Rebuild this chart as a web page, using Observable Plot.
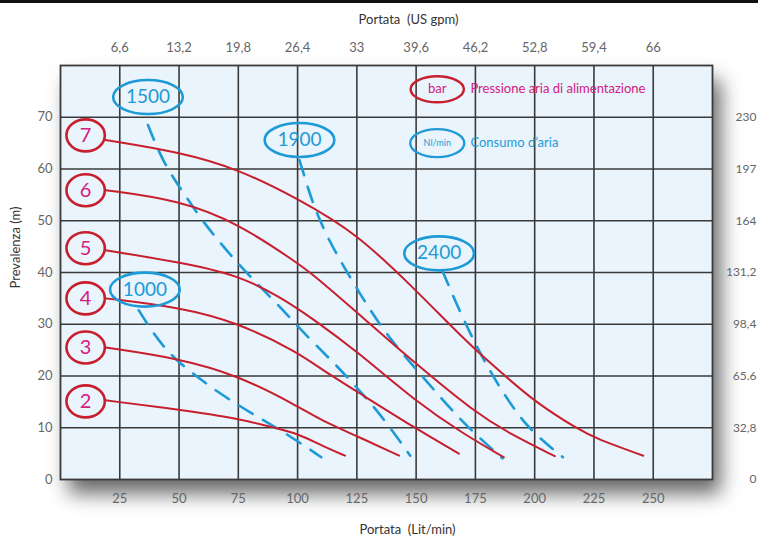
<!DOCTYPE html>
<html>
<head>
<meta charset="utf-8">
<script src="https://cdn.jsdelivr.net/npm/d3@7"></script>
<script src="https://cdn.jsdelivr.net/npm/@observablehq/plot@0.6"></script>
<style>
  body { margin: 0; background: #fff; }
  #wrap { position: relative; width: 758px; height: 545px; }
  #topbar { position: absolute; left: 0; top: 0; width: 758px; height: 3px; background: #111; }
</style>
</head>
<body>
<div id="wrap"><div id="topbar"></div></div>
<script>
// ---- tick labels ----
const xTicks = [25, 50, 75, 100, 125, 150, 175, 200, 225, 250];
const gpmLabels = ["6,6", "13,2", "19,8", "26,4", "33", "39,6", "46,2", "52,8", "59,4", "66"];
const yTicks = [0, 10, 20, 30, 40, 50, 60, 70];
const ftLabels = ["0", "32,8", "65.6", "98,4", "131,2", "164", "197", "230"];

// ---- pressure curves (bar): [Portata Lit/min, Prevalenza m] ----
const bar2 = [[19,15.3],[50,13.5],[75,11.8],[90,10],[100,8.9],[110,6.6],[120,4.6]];
const bar3 = [[19,25.5],[50,23.4],[75,20.1],[100,14.2],[110,11.4],[125,8.4],[142.8,4.6]];
const bar4 = [[19,35],[50,33.3],[75,30.3],[100,24.6],[110,21.3],[125,17],[150,9.8],[168,5]];
const bar5 = [[19,44.3],[50,42],[75,39.5],[93,35.2],[106,31.2],[125,24.8],[150,15],[170,8.8],[187,4.3]];
const bar6 = [[19,55.9],[50,54],[75,49.5],[100,41.8],[106,39.8],[125,32.3],[150,22.3],[175,12.9],[190,8.7],[208.5,4.5]];
const bar7 = [[19,65.6],[50,63.3],[75,60],[100,54.3],[125,47.6],[150,36.5],[164,30],[176,24.6],[186.4,20.5],[200,15],[219,9.5],[226,7.9],[245.8,4.6]];
const barNames = ["2", "3", "4", "5", "6", "7"];
const barLabelX = 10.6;
const barLabelY = [15.1, 25.5, 35, 44.7, 55.9, 66.5];

// ---- air consumption (Nl/min) ----
const nl1000 = [[33,32.7],[43.2,25.3],[55,20.7],[67.8,16.4],[80.5,12.8],[94.5,9.1],[110,4.3]];
const nl1500 = [[36.9,68.5],[43.2,61.3],[51.7,55.5],[60.2,49.7],[70.3,44.1],[81.4,38.5],[92.4,33.5],[103.4,27.9],[114.8,22.8],[125.4,17.6],[136,12],[147.5,4.6]];
const nl1900 = [[100.8,61.7],[103.4,57.8],[106.8,52.8],[113.1,46.2],[121.6,39.5],[130,33.1],[139.4,26.9],[149.6,21.5],[160.6,15.7],[171.6,10.1],[186.4,4.1]];
const nl2400 = [[161,40.4],[168.2,32.7],[174.6,26.5],[181.4,20.7],[189,15.1],[197.9,9.5],[211.9,4.3]];
const nlNames = ["1000", "1500", "1900", "2400"];
const nlLabelX = [35.6, 36.9, 100.8, 159.7];
const nlLabelY = [36.7, 73.9, 65.6, 43.7];

// ---- legend ----
const legendText = ["Pressione aria di alimentazione", "Consumo d\u2019aria"];
const legendKeys = ["bar", "Nl/min"];
const legendX = 158.9;
const legendTextX = 172.9;
const legendY = [75.4, 65];

const RED = "#c81f2e", MAG = "#d4207f", BLUE = "#1e9ad6", GRID = "#3a3a3a";

const barSeries = [bar2, bar3, bar4, bar5, bar6, bar7];
const nlSeries = [nl1000, nl1500, nl1900, nl2400];
const barRows = barSeries.flatMap((s, i) => s.map(([x, y]) => ({x, y, s: barNames[i]})));
const nlRows = nlSeries.flatMap((s, i) => s.map(([x, y]) => ({x, y, s: nlNames[i]})));
const barLabels = barNames.map((n, i) => ({x: barLabelX, y: barLabelY[i], t: n}));
const nlLabels = nlNames.map((n, i) => ({x: nlLabelX[i], y: nlLabelY[i], t: n}));

function ellipse(sx, sy) {
  return {
    draw(ctx, size) {
      const r = Math.sqrt(size / Math.PI), rx = r * sx, ry = r * sy, k = 0.5523;
      ctx.moveTo(rx, 0);
      ctx.bezierCurveTo(rx, ry * k, rx * k, ry, 0, ry);
      ctx.bezierCurveTo(-rx * k, ry, -rx, ry * k, -rx, 0);
      ctx.bezierCurveTo(-rx, -ry * k, -rx * k, -ry, 0, -ry);
      ctx.bezierCurveTo(rx * k, -ry, rx, -ry * k, rx, 0);
      ctx.closePath();
    }
  };
}

const chart = Plot.plot({
  width: 758,
  height: 545,
  marginLeft: 60,
  marginRight: 46,
  marginTop: 65,
  marginBottom: 66,
  x: {domain: [0, 275]},
  y: {domain: [0, 80]},
  style: {fontFamily: "Lato, 'Open Sans', sans-serif", fontSize: "13px", color: "#666", background: "transparent"},
  marks: [
    Plot.frame({fill: "#e9f4fc", stroke: "none"}),
    Plot.ruleX(xTicks, {stroke: GRID, strokeWidth: 1.6}),
    Plot.ruleY(yTicks.slice(1), {stroke: GRID, strokeWidth: 1.6}),
    Plot.frame({stroke: GRID, strokeWidth: 1.8}),
    Plot.axisX(xTicks, {anchor: "bottom", tickSize: 0, tickPadding: 14, label: null, fill: "#666", fontSize: 13}),
    Plot.axisX(xTicks, {anchor: "top", tickSize: 0, tickPadding: 14, label: null, fill: "#666", fontSize: 13,
      tickFormat: (d) => gpmLabels[xTicks.indexOf(d)]}),
    Plot.axisY(yTicks, {anchor: "left", tickSize: 0, tickPadding: 8, label: null, fill: "#666", fontSize: 13}),
    Plot.axisY(yTicks, {anchor: "right", tickSize: 0, tickPadding: 44, textAnchor: "end", label: null, fill: "#666", fontSize: 12,
      tickFormat: d => ftLabels[yTicks.indexOf(d)]}),
    Plot.text(["Portata\u00a0 (US gpm)"], {frameAnchor: "top", dx: 22, dy: -51, fill: "#333", fontSize: 13}),
    Plot.text(["Portata\u00a0 (Lit/min)"], {frameAnchor: "bottom", dx: 21, dy: 54, fill: "#333", fontSize: 13}),
    Plot.text(["Prevalenza (m)"], {frameAnchor: "left", dx: -45, dy: 16, rotate: -90, fill: "#333", fontSize: 13}),
    // air consumption dashed lines
    Plot.line(nlRows, {x: "x", y: "y", z: "s", stroke: BLUE, strokeWidth: 2.6, strokeDasharray: "16,12", curve: "basis"}),
    // pressure curves
    Plot.line(barRows, {x: "x", y: "y", z: "s", stroke: RED, strokeWidth: 2, curve: "basis"}),
    // pressure labels
    Plot.dot(barLabels, {x: "x", y: "y", r: 16, symbol: ellipse(1.2, 1), stroke: RED, strokeWidth: 2.6, fill: "none"}),
    Plot.text(barLabels, {x: "x", y: "y", text: "t", fill: MAG, fontSize: 20}),
    // consumption labels
    Plot.dot(nlLabels, {x: "x", y: "y", r: 17, symbol: ellipse(2.05, 1), stroke: BLUE, strokeWidth: 2.6, fill: "none"}),
    Plot.text(nlLabels, {x: "x", y: "y", text: "t", fill: BLUE, fontSize: 19}),
    // legend
    Plot.dot([0], {x: legendX, y: legendY[0], r: 13, symbol: ellipse(2.05, 1), stroke: RED, strokeWidth: 2.4, fill: "none"}),
    Plot.text([legendKeys[0]], {x: legendX, y: legendY[0], fill: MAG, fontSize: 13}),
    Plot.text([legendText[0]], {x: legendTextX, y: legendY[0], fill: MAG, fontSize: 13, textAnchor: "start"}),
    Plot.dot([0], {x: legendX, y: legendY[1], r: 14, symbol: ellipse(1.93, 1), stroke: BLUE, strokeWidth: 2.4, fill: "none"}),
    Plot.text([legendKeys[1]], {x: legendX, y: legendY[1], fill: BLUE, fontSize: 9}),
    Plot.text([legendText[1]], {x: legendTextX, y: legendY[1], fill: BLUE, fontSize: 13, textAnchor: "start"})
  ]
});

const frameEl = chart.querySelector('[aria-label="frame"]');
if (frameEl) frameEl.style.filter = "drop-shadow(8px 14px 10px rgba(0,0,0,0.6))";
document.getElementById("wrap").prepend(chart);
</script>
</body>
</html>
